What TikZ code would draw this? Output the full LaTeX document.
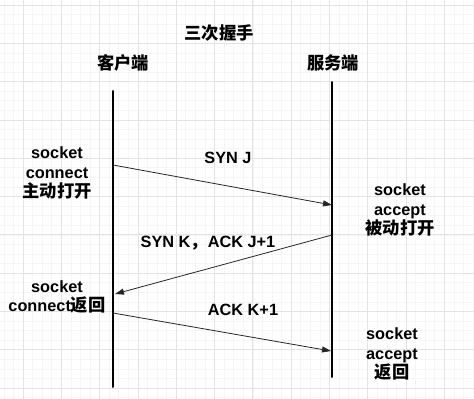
\documentclass[tikz,border=0pt]{standalone}
\usepackage{fontspec}
\setmainfont{Liberation Sans}
\newfontfamily\cjk{Noto Sans CJK SC}[Scale=1.06]
\usetikzlibrary{arrows.meta}

\begin{document}
\begin{tikzpicture}[x=1pt, y=-1pt, line cap=round, line join=round,
  lbl/.style={font=\fontsize{16.3}{19.5}\selectfont\bfseries, align=center, inner sep=0pt},
  life/.style={line width=2pt, black},
  msg/.style={line width=0.8pt, black!85, -{Triangle[length=9pt,width=6pt]}}]
  % --- Khung ---
  \useasboundingbox[fill=white] (0,0) rectangle (474,399);
  % lưới nhỏ
  \foreach \i in {-4,...,48} {
    \draw[black!4, line width=0.6pt] ({23+9.575*\i},0) -- ({23+9.575*\i},399);
    \draw[black!4, line width=0.6pt] (0,{5+9.575*\i}) -- (474,{5+9.575*\i});
  }
  % lưới lớn
  \foreach \i in {-1,...,12} {
    \draw[black!11, line width=0.8pt] ({23+38.3*\i},0) -- ({23+38.3*\i},399);
    \draw[black!11, line width=0.8pt] (0,{5+38.3*\i}) -- (474,{5+38.3*\i});
  }

  % --- Toạ độ hai đường đời ---
  \coordinate (C0) at (113,91);
  \coordinate (C1) at (113,387);
  \coordinate (S0) at (332,82);
  \coordinate (S1) at (332,377);
  % điểm đầu / cuối các gói tin
  \coordinate (syn1) at (113,165);
  \coordinate (syn2) at (332,205);
  \coordinate (ack1) at (332,235);
  \coordinate (ack2) at (115,294);
  \coordinate (fin1) at (113,313);
  \coordinate (fin2) at (331,351);

  % --- Tiêu đề ---
  \node[lbl] (title) at (219,33) {\cjk 三次握手};
  \node[lbl] (client) at (123,63) {\cjk 客户端};
  \node[lbl] (server) at (333,63) {\cjk 服务端};

  % --- Đường đời ---
  \draw[life] (C0) -- (C1);
  \draw[life] (S0) -- (S1);

  % --- Gói tin ---
  \draw[msg] (syn1) -- (syn2);
  \draw[msg] (ack1) -- (ack2);
  \draw[msg] (fin1) -- (fin2);

  % --- Nhãn ---
  \node[lbl] (synJ) at (228,158) {SYN J};
  \node[lbl] (synK) at (208,243) {SYN K{\cjk ，}ACK J+1};
  \node[lbl] (ackK) at (243,310) {ACK K+1};
  \node[lbl] (cOpen) at (57,173) {socket\\connect\\{\cjk 主动打开}};
  \node[lbl] (sOpen) at (400,210) {socket\\accept\\{\cjk 被动打开}};
  \node[lbl] (cRet) at (57,297) {socket\\connect{\cjk 返回}};
  \node[lbl] (sRet) at (392,354) {socket\\accept\\{\cjk 返回}};
\end{tikzpicture}
\end{document}
